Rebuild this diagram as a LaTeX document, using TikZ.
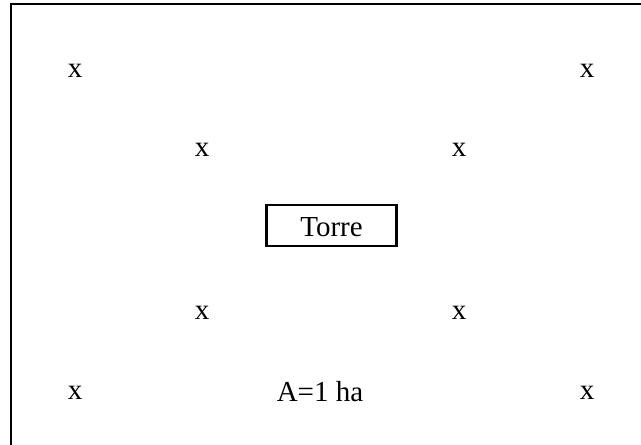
\documentclass[tikz,border=0pt]{standalone}
\usepackage{fontspec}
\setmainfont{Liberation Serif}
\usetikzlibrary{positioning}

\begin{document}
\begin{tikzpicture}[
    x=0.02cm, y=-0.02cm,
    cross/.style={inner sep=0pt, font=\fontsize{16.5}{20}\selectfont},
    tower/.style={rectangle, draw=black, line width=1.3pt, minimum width=2.6cm,
      minimum height=0.82cm, inner sep=0pt, text height=0.46cm, text depth=0pt,
      font=\fontsize{16.5}{20}\selectfont},
    areatext/.style={inner sep=0pt, font=\fontsize{16.5}{20}\selectfont},
    border/.style={line width=1.3pt, black}
  ]
    \useasboundingbox (0,0) rectangle (641,445);
    % Plot border (left and top edges)
    \coordinate (bl) at (11,445);
    \coordinate (tl) at (11,4);
    \coordinate (tr) at (641,4);
    \draw[border] (bl) -- (tl) -- (tr);
    % Outer points
    \node[cross] (p1) at (75,71) {x};
    \node[cross] (p2) at (587,71) {x};
    \node[cross] (p3) at (75,393) {x};
    \node[cross] (p4) at (587,393) {x};
    % Inner points
    \node[cross] (q1) at (202,150) {x};
    \node[cross] (q2) at (459,150) {x};
    \node[cross] (q3) at (202,313) {x};
    \node[cross] (q4) at (459,313) {x};
    % Tower and area
    \node[tower] (torre) at (331.5,225.5) {Torre};
    \node[areatext] (area) at (320,392) {A=1 ha};
  \end{tikzpicture}
\end{document}
